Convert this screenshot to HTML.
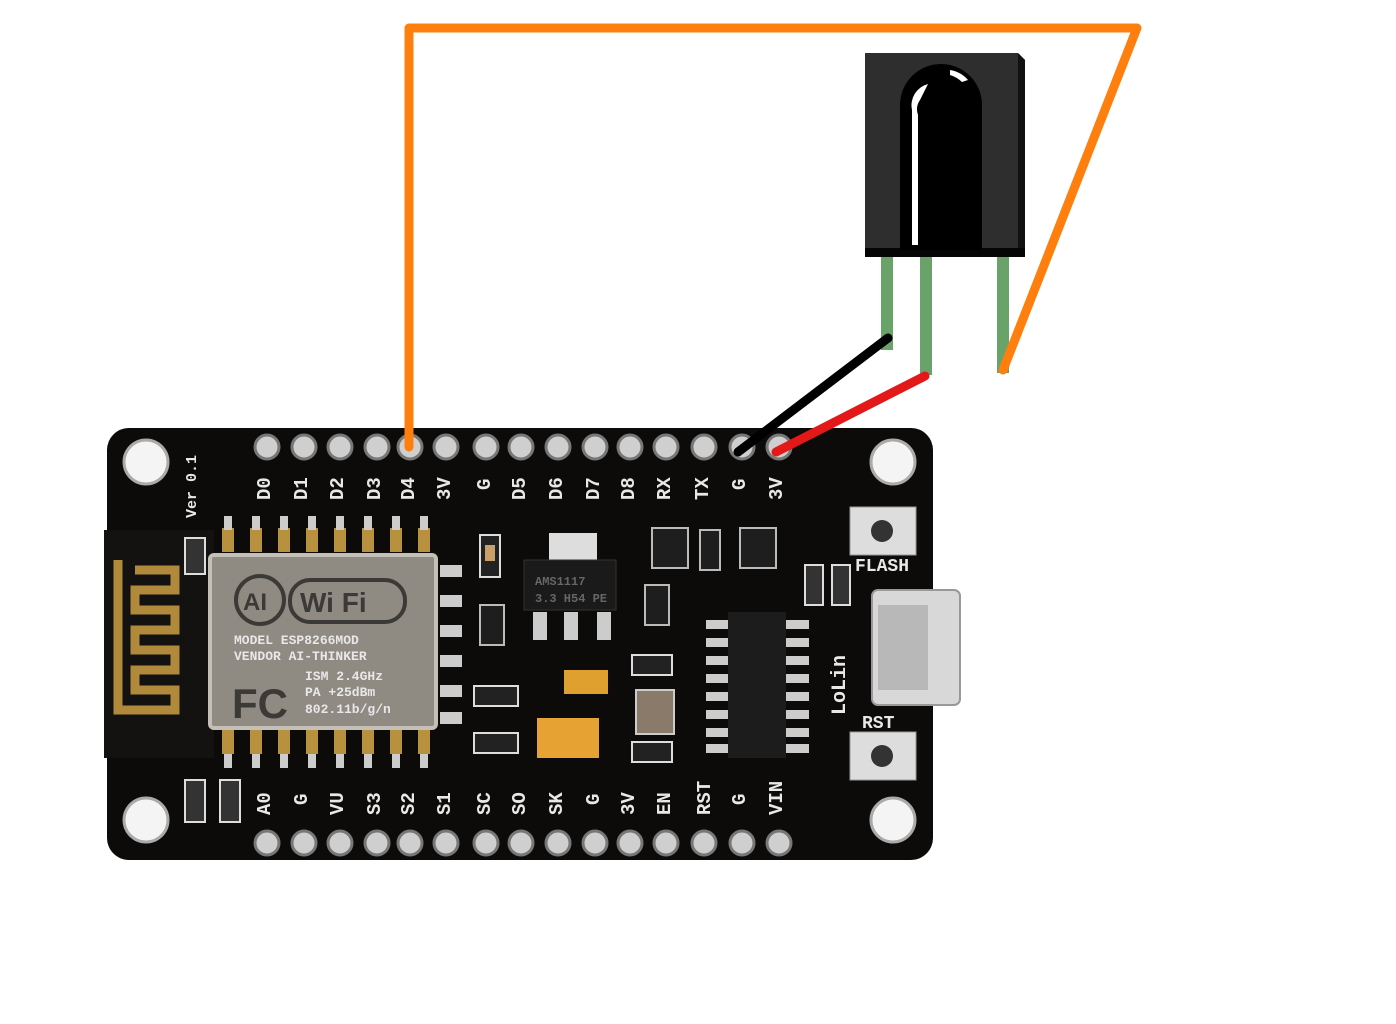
<!DOCTYPE html>
<html><head><meta charset="utf-8"><style>
html,body{margin:0;padding:0;background:#fff;width:1396px;height:1024px;overflow:hidden}
svg text{font-family:"Liberation Mono",monospace;font-weight:bold;fill:#e8e8e8}
</style></head><body>
<svg width="1396" height="1024" viewBox="0 0 1396 1024" xmlns="http://www.w3.org/2000/svg">
<!-- board -->
<rect x="107" y="428" width="826" height="432" rx="22" fill="#0c0b0a"/>
<rect x="104" y="530" width="110" height="228" fill="#141210"/>
<!-- antenna -->
<path d="M118 560 V710 H175 V690 H135 V670 H175 V650 H135 V630 H175 V610 H135 V590 H175 V570 H135" fill="none" stroke="#b08a3a" stroke-width="9"/>
<!-- mounting holes -->
<g fill="#f4f4f4" stroke="#aaa" stroke-width="3">
<circle cx="146" cy="462" r="22"/><circle cx="893" cy="462" r="22"/>
<circle cx="146" cy="820" r="22"/><circle cx="893" cy="820" r="22"/>
</g>
<!-- pins -->
<g fill="#cfcfcf" stroke="#777" stroke-width="3">
<circle cx="267" cy="447" r="12"/><circle cx="304" cy="447" r="12"/><circle cx="340" cy="447" r="12"/><circle cx="377" cy="447" r="12"/><circle cx="410" cy="447" r="12"/><circle cx="446" cy="447" r="12"/><circle cx="486" cy="447" r="12"/><circle cx="521" cy="447" r="12"/><circle cx="558" cy="447" r="12"/><circle cx="595" cy="447" r="12"/><circle cx="630" cy="447" r="12"/><circle cx="666" cy="447" r="12"/><circle cx="704" cy="447" r="12"/><circle cx="742" cy="447" r="12"/><circle cx="779" cy="447" r="12"/>
<circle cx="267" cy="843" r="12"/><circle cx="304" cy="843" r="12"/><circle cx="340" cy="843" r="12"/><circle cx="377" cy="843" r="12"/><circle cx="410" cy="843" r="12"/><circle cx="446" cy="843" r="12"/><circle cx="486" cy="843" r="12"/><circle cx="521" cy="843" r="12"/><circle cx="558" cy="843" r="12"/><circle cx="595" cy="843" r="12"/><circle cx="630" cy="843" r="12"/><circle cx="666" cy="843" r="12"/><circle cx="704" cy="843" r="12"/><circle cx="742" cy="843" r="12"/><circle cx="779" cy="843" r="12"/>
</g>
<!-- pin labels -->
<g font-size="19">
<text transform="translate(270,500) rotate(-90)">D0</text>
<text transform="translate(307,500) rotate(-90)">D1</text>
<text transform="translate(343,500) rotate(-90)">D2</text>
<text transform="translate(380,500) rotate(-90)">D3</text>
<text transform="translate(414,500) rotate(-90)">D4</text>
<text transform="translate(450,500) rotate(-90)">3V</text>
<text transform="translate(490,490) rotate(-90)">G</text>
<text transform="translate(525,500) rotate(-90)">D5</text>
<text transform="translate(562,500) rotate(-90)">D6</text>
<text transform="translate(599,500) rotate(-90)">D7</text>
<text transform="translate(634,500) rotate(-90)">D8</text>
<text transform="translate(670,500) rotate(-90)">RX</text>
<text transform="translate(708,500) rotate(-90)">TX</text>
<text transform="translate(745,490) rotate(-90)">G</text>
<text transform="translate(782,500) rotate(-90)">3V</text>
<text transform="translate(270,815) rotate(-90)">A0</text>
<text transform="translate(307,805) rotate(-90)">G</text>
<text transform="translate(343,815) rotate(-90)">VU</text>
<text transform="translate(380,815) rotate(-90)">S3</text>
<text transform="translate(414,815) rotate(-90)">S2</text>
<text transform="translate(450,815) rotate(-90)">S1</text>
<text transform="translate(490,815) rotate(-90)">SC</text>
<text transform="translate(525,815) rotate(-90)">SO</text>
<text transform="translate(562,815) rotate(-90)">SK</text>
<text transform="translate(599,805) rotate(-90)">G</text>
<text transform="translate(634,815) rotate(-90)">3V</text>
<text transform="translate(670,815) rotate(-90)">EN</text>
<text transform="translate(710,815) rotate(-90)">RST</text>
<text transform="translate(745,805) rotate(-90)">G</text>
<text transform="translate(782,815) rotate(-90)">VIN</text>
<text transform="translate(196,518) rotate(-90)" font-size="15">Ver 0.1</text>
<text x="855" y="571" font-size="18">FLASH</text>
<text x="862" y="728" font-size="18">RST</text>
<text transform="translate(845,715) rotate(-90)" font-size="20">LoLin</text>
</g>
<!-- ESP module pads -->
<g fill="#b8913e">
<rect x="222" y="528" width="12" height="24"/><rect x="250" y="528" width="12" height="24"/><rect x="278" y="528" width="12" height="24"/><rect x="306" y="528" width="12" height="24"/><rect x="334" y="528" width="12" height="24"/><rect x="362" y="528" width="12" height="24"/><rect x="390" y="528" width="12" height="24"/><rect x="418" y="528" width="12" height="24"/>
<rect x="222" y="730" width="12" height="24"/><rect x="250" y="730" width="12" height="24"/><rect x="278" y="730" width="12" height="24"/><rect x="306" y="730" width="12" height="24"/><rect x="334" y="730" width="12" height="24"/><rect x="362" y="730" width="12" height="24"/><rect x="390" y="730" width="12" height="24"/><rect x="418" y="730" width="12" height="24"/>
</g>
<g fill="#ccc">
<rect x="224" y="516" width="8" height="14"/><rect x="252" y="516" width="8" height="14"/><rect x="280" y="516" width="8" height="14"/><rect x="308" y="516" width="8" height="14"/><rect x="336" y="516" width="8" height="14"/><rect x="364" y="516" width="8" height="14"/><rect x="392" y="516" width="8" height="14"/><rect x="420" y="516" width="8" height="14"/>
<rect x="224" y="754" width="8" height="14"/><rect x="252" y="754" width="8" height="14"/><rect x="280" y="754" width="8" height="14"/><rect x="308" y="754" width="8" height="14"/><rect x="336" y="754" width="8" height="14"/><rect x="364" y="754" width="8" height="14"/><rect x="392" y="754" width="8" height="14"/><rect x="420" y="754" width="8" height="14"/>
<rect x="440" y="565" width="22" height="12"/><rect x="440" y="595" width="22" height="12"/><rect x="440" y="625" width="22" height="12"/><rect x="440" y="655" width="22" height="12"/><rect x="440" y="685" width="22" height="12"/><rect x="440" y="712" width="22" height="12"/>
</g>
<!-- shield -->
<rect x="210" y="555" width="226" height="173" rx="4" fill="#8f8a82" stroke="#c4c0b8" stroke-width="4"/>
<g font-size="13" style="fill:#3c3a36">
<text x="234" y="644">MODEL  ESP8266MOD</text>
<text x="234" y="660">VENDOR AI-THINKER</text>
<text x="305" y="680">ISM 2.4GHz</text>
<text x="305" y="696">PA   +25dBm</text>
<text x="305" y="713">802.11b/g/n</text>
</g>
<rect x="290" y="580" width="115" height="42" rx="20" fill="none" stroke="#3c3a36" stroke-width="4"/>
<text x="300" y="612" font-size="28" style="fill:#3c3a36;font-family:'Liberation Sans',sans-serif">Wi Fi</text>
<circle cx="260" cy="600" r="24" fill="none" stroke="#3c3a36" stroke-width="4"/>
<text x="243" y="610" font-size="24" style="fill:#3c3a36;font-family:'Liberation Sans',sans-serif">AI</text>
<text x="232" y="718" font-size="42" style="fill:#3c3a36;font-family:'Liberation Sans',sans-serif">FC</text>
<!-- regulator -->
<rect x="549" y="533" width="48" height="28" fill="#ddd"/>
<rect x="524" y="560" width="92" height="50" fill="#1a1a1a" stroke="#333"/>
<text x="535" y="585" font-size="12" style="fill:#666">AMS1117</text>
<text x="535" y="602" font-size="12" style="fill:#666">3.3 H54 PE</text>
<rect x="533" y="612" width="14" height="28" fill="#ccc"/><rect x="564" y="612" width="14" height="28" fill="#ccc"/><rect x="597" y="612" width="14" height="28" fill="#ccc"/>
<!-- caps -->
<rect x="564" y="670" width="44" height="24" fill="#e0a030"/>
<rect x="537" y="718" width="62" height="40" fill="#e6a232"/>
<rect x="480" y="535" width="20" height="42" fill="#222" stroke="#ddd" stroke-width="2"/>
<rect x="485" y="545" width="10" height="16" fill="#caa06a"/>
<rect x="474" y="686" width="44" height="20" fill="#222" stroke="#ddd" stroke-width="2"/>
<rect x="474" y="733" width="44" height="20" fill="#222" stroke="#ddd" stroke-width="2"/>
<rect x="632" y="655" width="40" height="20" fill="#222" stroke="#ddd" stroke-width="2"/>
<rect x="632" y="742" width="40" height="20" fill="#222" stroke="#ddd" stroke-width="2"/>
<rect x="636" y="690" width="38" height="44" fill="#8a7a6a" stroke="#ccc" stroke-width="2"/>
<rect x="185" y="538" width="20" height="36" fill="#333" stroke="#ddd" stroke-width="2"/>
<rect x="185" y="780" width="20" height="42" fill="#333" stroke="#ddd" stroke-width="2"/>
<rect x="220" y="780" width="20" height="42" fill="#333" stroke="#ddd" stroke-width="2"/>
<rect x="805" y="565" width="18" height="40" fill="#333" stroke="#ddd" stroke-width="2"/>
<rect x="832" y="565" width="18" height="40" fill="#333" stroke="#ddd" stroke-width="2"/>
<!-- chip CH340 -->
<g fill="#ccc">
<rect x="706" y="620" width="24" height="9"/><rect x="706" y="638" width="24" height="9"/><rect x="706" y="656" width="24" height="9"/><rect x="706" y="674" width="24" height="9"/><rect x="706" y="692" width="24" height="9"/><rect x="706" y="710" width="24" height="9"/><rect x="706" y="728" width="24" height="9"/><rect x="706" y="744" width="24" height="9"/>
<rect x="785" y="620" width="24" height="9"/><rect x="785" y="638" width="24" height="9"/><rect x="785" y="656" width="24" height="9"/><rect x="785" y="674" width="24" height="9"/><rect x="785" y="692" width="24" height="9"/><rect x="785" y="710" width="24" height="9"/><rect x="785" y="728" width="24" height="9"/><rect x="785" y="744" width="24" height="9"/>
</g>
<rect x="728" y="612" width="58" height="146" fill="#1c1c1c"/>
<!-- small transistors -->
<rect x="652" y="528" width="36" height="40" fill="#1e1e1e" stroke="#bbb" stroke-width="2"/>
<rect x="700" y="530" width="20" height="40" fill="#1e1e1e" stroke="#bbb" stroke-width="2"/>
<rect x="740" y="528" width="36" height="40" fill="#1e1e1e" stroke="#bbb" stroke-width="2"/>
<rect x="645" y="585" width="24" height="40" fill="#1e1e1e" stroke="#bbb" stroke-width="2"/>
<rect x="480" y="605" width="24" height="40" fill="#1e1e1e" stroke="#bbb" stroke-width="2"/>
<!-- USB -->
<rect x="872" y="590" width="88" height="115" rx="6" fill="#d8d8d8" stroke="#999" stroke-width="2"/>
<rect x="878" y="605" width="50" height="85" fill="#b8b8b8"/>
<!-- buttons -->
<rect x="850" y="507" width="66" height="48" fill="#ddd" stroke="#999"/><circle cx="882" cy="531" r="11" fill="#333"/>
<rect x="850" y="732" width="66" height="48" fill="#ddd" stroke="#999"/><circle cx="882" cy="756" r="11" fill="#333"/>
<!-- IR sensor -->
<polygon points="865,53 1018,53 1025,60 1025,257 865,257" fill="#2e2e2e"/>
<polygon points="1018,53 1025,60 1025,257 1018,257" fill="#111"/>
<rect x="865" y="248" width="160" height="9" fill="#050505"/>
<path d="M900 250 V105 A41 41 0 0 1 982 105 V250 Z" fill="#000"/>
<path d="M912 245 V110 A22 22 0 0 1 928 84 L920 100 A16 16 0 0 0 918 115 V245 Z" fill="#fff"/>
<path d="M950 70 A30 30 0 0 1 968 80 L962 82 A30 30 0 0 0 950 75 Z" fill="#fff"/>
<g fill="#6aa36a">
<rect x="881" y="257" width="12" height="93"/>
<rect x="920" y="257" width="12" height="118"/>
<rect x="997" y="257" width="12" height="116"/>
</g>
<!-- wires -->
<g fill="none" stroke-linecap="round" stroke-linejoin="round" stroke-width="9">
<path d="M888 338 L738 452" stroke="#000"/>
<path d="M925 376 L776 452" stroke="#e31818"/>
<path d="M409 447 V28 H1137 L1003 370" stroke="#ff7f0e"/>
</g>
</svg>
</body></html>
